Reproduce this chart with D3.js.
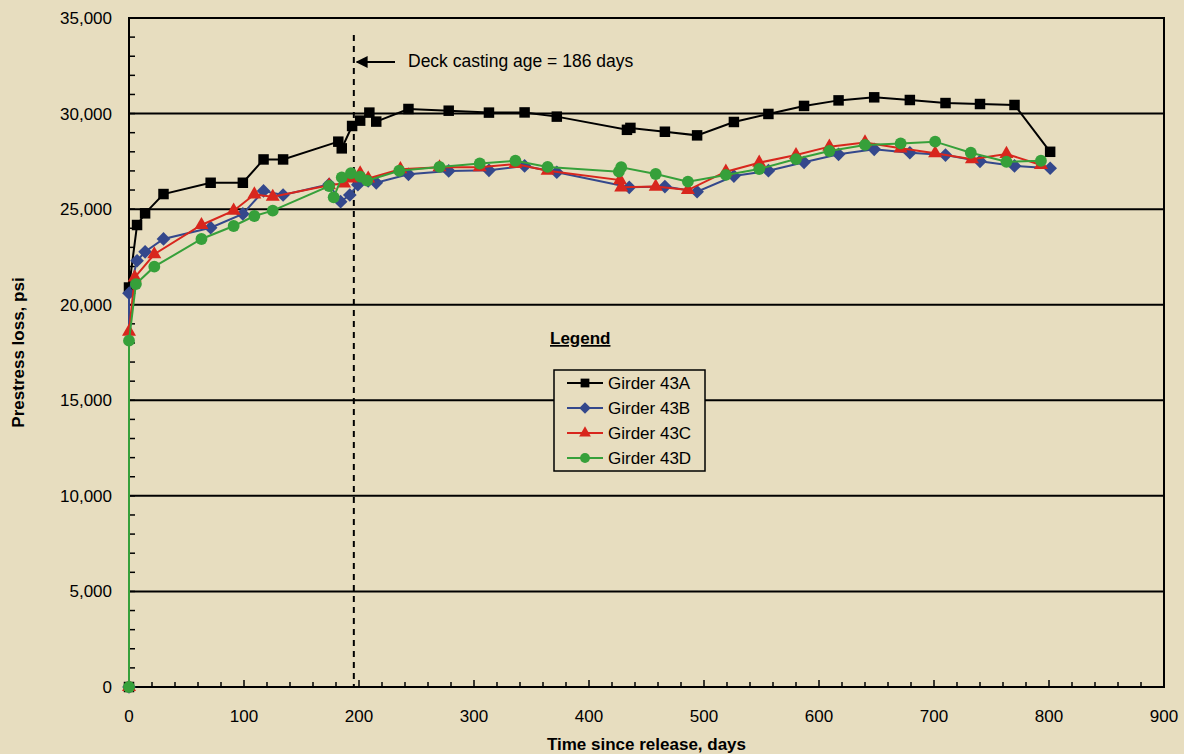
<!DOCTYPE html>
<html>
<head>
<meta charset="utf-8">
<script src="https://cdn.jsdelivr.net/npm/d3@7"></script>
<style>
  body { margin: 0; background: #e7ddbf; }
  svg { display: block; font-family: "Liberation Sans", Arial, sans-serif; }
</style>
</head>
<body>
<div id="chart"></div>
<script>
// Chart values
const seriesNames = ["Girder 43A", "Girder 43B", "Girder 43C", "Girder 43D"];

const daysA = [0, 0, 7, 14, 30, 71, 99, 117, 134, 182, 185, 194, 201, 209, 215, 243, 278, 313, 344, 372, 433, 436, 466, 494, 526, 556, 587, 617, 648, 679, 710, 740, 770, 801];
const lossA = [0, 20900, 24170, 24780, 25790, 26380, 26380, 27600, 27600, 28530, 28180, 29350, 29630, 30050, 29580, 30240, 30150, 30050, 30060, 29840, 29150, 29250, 29050, 28860, 29560, 29980, 30400, 30690, 30850, 30710, 30550, 30500, 30450, 28000];

const daysB = [0, 0, 7, 14, 30, 71, 99, 117, 134, 174, 184, 192, 199, 208, 215, 243, 278, 313, 344, 372, 435, 466, 494, 526, 556, 587, 617, 648, 679, 710, 740, 770, 801];
const lossB = [0, 20600, 22300, 22770, 23440, 24030, 24750, 25950, 25740, 26300, 25390, 25740, 26280, 26480, 26380, 26820, 27000, 27030, 27260, 26930, 26140, 26180, 25910, 26730, 27010, 27450, 27870, 28130, 27950, 27830, 27500, 27260, 27140];

const daysC = [0, 0, 5, 22, 63, 91, 109, 125, 174, 187, 193, 201, 208, 236, 270, 305, 336, 364, 427, 428, 458, 486, 519, 548, 580, 609, 640, 671, 701, 733, 763, 793];
const lossC = [0, 18590, 21430, 22640, 24170, 24920, 25770, 25650, 26250, 26350, 26600, 26870, 26600, 27090, 27190, 27190, 27360, 27010, 26520, 26140, 26180, 26000, 26960, 27430, 27830, 28270, 28490, 28180, 27920, 27610, 27890, 27310];

const daysD = [0, 0, 6, 22, 63, 91, 109, 125, 174, 178, 185, 193, 201, 207, 235, 270, 305, 336, 364, 426, 428, 458, 486, 519, 548, 580, 609, 640, 671, 701, 732, 763, 793];
const lossD = [0, 18120, 21080, 21990, 23440, 24120, 24640, 24920, 26210, 25620, 26660, 26880, 26700, 26490, 27010, 27210, 27390, 27530, 27210, 26960, 27190, 26840, 26440, 26790, 27100, 27620, 28040, 28360, 28440, 28530, 27950, 27480, 27530];

const xTicks = [0, 100, 200, 300, 400, 500, 600, 700, 800, 900];
const yTicks = [0, 5000, 10000, 15000, 20000, 25000, 30000, 35000];
const deckDay = 195.5;
const deckLabel = "Deck casting age = 186 days";

const width = 1184;
const height = 754;
const margin = { left: 129, right: 20, top: 18, bottom: 67 };

const x = d3.scaleLinear().domain([0, 900]).range([margin.left, width - margin.right]);
const y = d3.scaleLinear().domain([0, 35000]).range([height - margin.bottom, margin.top]);

const svg = d3.select("#chart").append("svg")
    .attr("width", width)
    .attr("height", height);

svg.append("rect").attr("width", width).attr("height", height).attr("fill", "#e7ddbf");

// gridlines
svg.append("g")
    .selectAll("line")
    .data(yTicks.slice(1, -1))
    .enter().append("line")
    .attr("x1", x(0)).attr("x2", x(900))
    .attr("y1", d => y(d)).attr("y2", d => y(d))
    .attr("stroke", "#000").attr("stroke-width", 2);

// minor ticks (inside)
svg.append("g")
    .selectAll("line")
    .data(d3.range(0, 35001, 1000))
    .enter().append("line")
    .attr("x1", x(0)).attr("x2", x(0) + 6)
    .attr("y1", d => y(d)).attr("y2", d => y(d))
    .attr("stroke", "#000").attr("stroke-width", 1.5);

svg.append("g")
    .selectAll("line")
    .data(d3.range(0, 901, 20))
    .enter().append("line")
    .attr("x1", d => x(d)).attr("x2", d => x(d))
    .attr("y1", y(0)).attr("y2", d => y(0) - (d % 100 === 0 ? 7 : 5))
    .attr("stroke", "#000").attr("stroke-width", 1.5);

// frame
svg.append("rect")
    .attr("x", x(0)).attr("y", y(35000))
    .attr("width", x(900) - x(0)).attr("height", y(0) - y(35000))
    .attr("fill", "none").attr("stroke", "#000").attr("stroke-width", 2);

// tick labels
svg.append("g")
    .selectAll("text")
    .data(yTicks)
    .enter().append("text")
    .attr("x", x(0) - 17).attr("y", d => y(d) + 6)
    .attr("text-anchor", "end")
    .style("font-size", "17px")
    .text(d => d3.format(",")(d));

svg.append("g")
    .selectAll("text")
    .data(xTicks)
    .enter().append("text")
    .attr("x", d => x(d)).attr("y", y(0) + 35)
    .attr("text-anchor", "middle")
    .style("font-size", "17px")
    .text(d => d);

// axis titles
svg.append("text")
    .attr("x", (x(0) + x(900)) / 2).attr("y", 750)
    .attr("text-anchor", "middle")
    .style("font-size", "17px").style("font-weight", "bold")
    .text("Time since release, days");

svg.append("text")
    .attr("transform", `translate(24, ${(y(0) + y(35000)) / 2}) rotate(-90)`)
    .attr("text-anchor", "middle")
    .style("font-size", "17px").style("font-weight", "bold")
    .text("Prestress loss, psi");

// deck casting marker
svg.append("line")
    .attr("x1", x(deckDay)).attr("x2", x(deckDay))
    .attr("y1", 35).attr("y2", y(0))
    .attr("stroke", "#000").attr("stroke-width", 2)
    .attr("stroke-dasharray", "6,5");

svg.append("defs").append("marker")
    .attr("id", "arrow")
    .attr("viewBox", "0 0 10 10")
    .attr("refX", 9).attr("refY", 5)
    .attr("markerWidth", 6).attr("markerHeight", 6)
    .attr("orient", "auto")
    .append("path").attr("d", "M10,5 L0,0 L0,10 Z").attr("fill", "#000");

svg.append("line")
    .attr("x1", 395).attr("x2", x(deckDay) + 3)
    .attr("y1", 62).attr("y2", 62)
    .attr("stroke", "#000").attr("stroke-width", 2)
    .attr("marker-end", "url(#arrow)");

svg.append("text")
    .attr("x", 408).attr("y", 67)
    .style("font-size", "17.5px")
    .text(deckLabel);

// series
const series = [
    { days: daysA, loss: lossA, color: "#000000", symbol: d3.symbolSquare, size: 110 },
    { days: daysB, loss: lossB, color: "#34488c", symbol: d3.symbolDiamond2, size: 120 },
    { days: daysC, loss: lossC, color: "#d8261d", symbol: d3.symbolTriangle, size: 85 },
    { days: daysD, loss: lossD, color: "#36a03a", symbol: d3.symbolCircle, size: 110 }
];

const line = d3.line().x(d => x(d[0])).y(d => y(d[1]));

series.forEach((s, i) => {
    const pts = s.days.map((d, j) => [d, s.loss[j]]);
    const g = svg.append("g");
    g.append("path")
        .datum(pts)
        .attr("d", line)
        .attr("fill", "none")
        .attr("stroke", s.color)
        .attr("stroke-width", 2);
    g.selectAll("path.pt")
        .data(pts)
        .enter().append("path")
        .attr("class", "pt")
        .attr("transform", d => `translate(${x(d[0])},${y(d[1])})`)
        .attr("d", d3.symbol().type(s.symbol).size(s.size))
        .attr("fill", s.color);
});

// legend
svg.append("text")
    .attr("x", 550).attr("y", 344)
    .style("font-size", "17px").style("font-weight", "bold")
    .style("text-decoration", "underline")
    .text("Legend");

const legend = svg.append("g");
legend.append("rect")
    .attr("x", 554).attr("y", 370).attr("width", 151).attr("height", 101)
    .attr("fill", "#e7ddbf").attr("stroke", "#000").attr("stroke-width", 1.5);

series.forEach((s, i) => {
    const ly = 383 + i * 25;
    legend.append("line")
        .attr("x1", 567).attr("x2", 603).attr("y1", ly).attr("y2", ly)
        .attr("stroke", s.color).attr("stroke-width", 2);
    legend.append("path")
        .attr("transform", `translate(585,${ly})`)
        .attr("d", d3.symbol().type(s.symbol).size(s.size * 0.7))
        .attr("fill", s.color);
    legend.append("text")
        .attr("x", 608).attr("y", ly + 6)
        .style("font-size", "17px")
        .text(seriesNames[i]);
});
</script>
</body>
</html>
